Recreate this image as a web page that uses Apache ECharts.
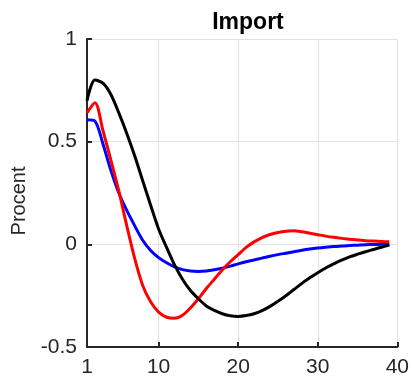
<!DOCTYPE html>
<html>
<head>
<meta charset="utf-8">
<script src="https://cdn.jsdelivr.net/npm/echarts@6/dist/echarts.min.js"></script>
<style>
  html, body { margin: 0; padding: 0; background: #fff; }
  #chart { width: 412px; height: 379px; }
</style>
</head>
<body>
<div id="chart"></div>
<script>
// Horizon (quarters) and impulse responses of imports, in percent
const horizon = Array.from({ length: 39 }, (_, i) => i + 1);
const xTicks = [1, 10, 20, 30, 40];

const blackResponse = [
  0.70, 0.80, 0.785, 0.73, 0.64, 0.54, 0.43, 0.31, 0.19, 0.075,
  -0.015, -0.10, -0.17, -0.225, -0.265, -0.30, -0.322, -0.338, -0.348, -0.351,
  -0.347, -0.338, -0.323, -0.302, -0.277, -0.25, -0.22, -0.19, -0.163, -0.138,
  -0.115, -0.095, -0.077, -0.061, -0.048, -0.036, -0.025, -0.014, -0.004
];
const redResponse = [
  0.64, 0.69, 0.555, 0.41, 0.26, 0.09, -0.07, -0.20, -0.28, -0.33,
  -0.355, -0.36, -0.345, -0.31, -0.265, -0.215, -0.17, -0.125, -0.085, -0.05,
  -0.015, 0.012, 0.033, 0.048, 0.058, 0.064, 0.066, 0.061, 0.054, 0.047,
  0.04, 0.034, 0.029, 0.025, 0.021, 0.018, 0.016, 0.014, 0.012
];
const blueResponse = [
  0.607, 0.60, 0.49, 0.36, 0.25, 0.165, 0.09, 0.02, -0.03, -0.065,
  -0.09, -0.11, -0.123, -0.13, -0.132, -0.13, -0.124, -0.116, -0.106, -0.095,
  -0.085, -0.076, -0.067, -0.058, -0.05, -0.043, -0.036, -0.029, -0.023, -0.018,
  -0.014, -0.011, -0.008, -0.006, -0.004, -0.002, -0.001, 0.0, 0.001
];

const pairs = (ys) => horizon.map((x, i) => [x, ys[i]]);
const textColor = '#262626';
const font = 'Liberation Sans, Arial, sans-serif';

const chart = echarts.init(document.getElementById('chart'), null, { renderer: 'canvas' });
chart.setOption({
  animation: false,
  backgroundColor: '#fff',
  title: {
    text: 'Import',
    left: 243,
    textAlign: 'center',
    top: 6,
    textStyle: { fontFamily: font, fontSize: 23, fontWeight: 'bold', color: '#000' }
  },
  grid: { left: 87, right: 13, top: 39, bottom: 32, containLabel: false },
  xAxis: {
    type: 'value',
    min: 1,
    max: 40,
    axisLine: { show: true, onZero: false, lineStyle: { color: textColor, width: 2 } },
    axisTick: { show: true, inside: true, length: 5, customValues: xTicks, lineStyle: { color: textColor, width: 2 } },
    axisLabel: { customValues: xTicks, color: textColor, fontFamily: font, fontSize: 21, margin: 10 },
    splitLine: { show: true, lineStyle: { color: '#e3e3e3', width: 1 } }
  },
  yAxis: {
    type: 'value',
    min: -0.5,
    max: 1,
    interval: 0.5,
    name: 'Procent',
    nameLocation: 'middle',
    nameGap: 48,
    nameTextStyle: { color: textColor, fontFamily: font, fontSize: 20, padding: [0, 16, 0, 0] },
    axisLine: { show: true, onZero: false, lineStyle: { color: textColor, width: 2 } },
    axisTick: { show: true, inside: true, length: 5, lineStyle: { color: textColor, width: 2 } },
    axisLabel: { color: textColor, fontFamily: font, fontSize: 21, margin: 10 },
    splitLine: { show: true, lineStyle: { color: '#e3e3e3', width: 1 } }
  },
  series: [
    { type: 'line', data: pairs(blueResponse), showSymbol: false, smooth: 0.3, lineStyle: { color: '#0000ff', width: 3 }, z: 2 },
    { type: 'line', data: pairs(redResponse), showSymbol: false, smooth: 0.3, lineStyle: { color: '#ff0000', width: 3 }, z: 3 },
    { type: 'line', data: pairs(blackResponse), showSymbol: false, smooth: 0.3, lineStyle: { color: '#000000', width: 3 }, z: 4 }
  ]
});
</script>
</body>
</html>
